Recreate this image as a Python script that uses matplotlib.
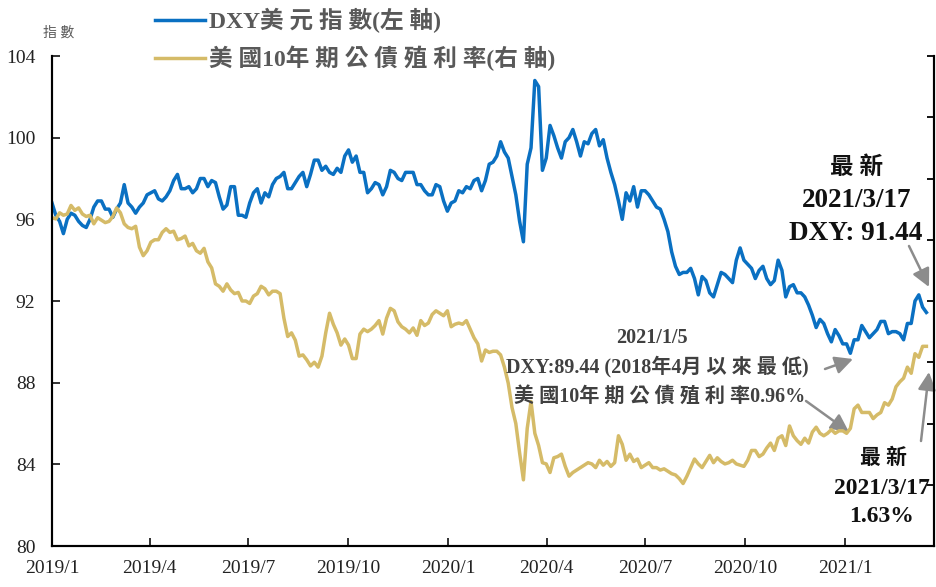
import numpy as np
import pandas as pd
import matplotlib
matplotlib.use("Agg")
import matplotlib.pyplot as plt
from matplotlib.patches import FancyArrowPatch

# ---------------- data (~2 readings per week) ----------------
start_date = "2019-01-01"
end_date = "2021-03-17"

dxy = [
    # 2019
    96.8, 96.2, 95.9, 95.3, 96.0, 96.3, 96.2, 95.9, 95.7,            # Jan
    95.6, 96.0, 96.6, 96.9, 96.9, 96.5, 96.5, 96.1,                  # Feb
    96.5, 96.8, 97.7, 96.8, 96.6, 96.3, 96.6, 96.8, 97.2,            # Mar
    97.3, 97.4, 97.0, 96.9, 97.1, 97.4, 97.9, 98.2, 97.5,            # Apr
    97.5, 97.6, 97.3, 97.5, 98.0, 98.0, 97.6, 97.9, 97.8,            # May
    97.1, 96.5, 96.7, 97.6, 97.6, 96.2, 96.2, 96.1,                  # Jun
    96.8, 97.3, 97.5, 96.8, 97.3, 97.1, 97.7, 98.0, 98.1,            # Jul
    98.3, 97.5, 97.5, 97.8, 98.1, 98.3, 97.6, 98.2, 98.9,            # Aug
    98.9, 98.4, 98.6, 98.3, 98.2, 98.5, 98.3, 99.1,                  # Sep
    99.4, 98.8, 99.1, 98.3, 98.3, 97.3, 97.5, 97.8, 97.7,            # Oct
    97.2, 97.6, 98.4, 98.3, 98.0, 97.9, 98.3, 98.3, 98.3,            # Nov
    97.7, 97.7, 97.4, 97.2, 97.2, 97.7, 97.6, 96.9, 96.4,            # Dec
    # 2020
    96.8, 96.9, 97.4, 97.3, 97.6, 97.5, 97.9, 98.0, 97.4,            # Jan
    97.9, 98.7, 98.8, 99.1, 99.8, 99.3, 99.0, 98.1,                  # Feb
    97.2, 95.9, 94.9, 98.7, 99.5, 102.8, 102.5, 98.4, 99.0,          # Mar
    100.6, 100.1, 99.5, 99.0, 99.8, 100.0, 100.4, 99.8,              # Apr
    99.1, 99.8, 99.7, 100.2, 100.4, 99.6, 99.9, 99.0, 98.3,          # May
    97.7, 96.9, 96.0, 97.3, 96.9, 97.6, 96.6, 97.4, 97.4,            # Jun
    97.2, 96.9, 96.6, 96.5, 96.0, 95.4, 94.4, 93.7, 93.3,            # Jul
    93.4, 93.4, 93.6, 93.1, 92.3, 93.2, 93.0, 92.4,                  # Aug
    92.2, 92.8, 93.4, 93.3, 93.1, 92.9, 94.0, 94.6, 94.0,            # Sep
    93.8, 93.6, 93.1, 93.5, 93.7, 93.1, 92.8, 93.0, 94.0,            # Oct
    93.5, 92.2, 92.7, 92.8, 92.4, 92.4, 92.2, 91.8,                  # Nov
    91.3, 90.7, 91.1, 90.9, 90.4, 90.0, 90.6, 90.3, 89.9,            # Dec
    # 2021
    89.9, 89.44, 90.1, 90.1, 90.8, 90.5, 90.2, 90.4, 90.6,           # Jan
    91.0, 91.0, 90.4, 90.5, 90.5, 90.4, 90.1, 90.9,                  # Feb
    90.9, 92.0, 92.3, 91.7, 91.44,                                   # Mar
]

yield10 = [
    # 2019
    2.68, 2.67, 2.72, 2.70, 2.71, 2.78, 2.74, 2.76, 2.71,            # Jan
    2.69, 2.70, 2.63, 2.68, 2.66, 2.64, 2.65, 2.69,                  # Feb
    2.76, 2.72, 2.63, 2.60, 2.59, 2.61, 2.44, 2.37, 2.41,            # Mar
    2.48, 2.50, 2.50, 2.56, 2.59, 2.56, 2.57, 2.50, 2.51,            # Apr
    2.53, 2.45, 2.47, 2.41, 2.39, 2.43, 2.32, 2.27, 2.14,            # May
    2.12, 2.08, 2.14, 2.09, 2.06, 2.07, 2.00, 2.00,                  # Jun
    1.98, 2.04, 2.06, 2.12, 2.10, 2.05, 2.08, 2.08, 2.06,            # Jul
    1.86, 1.71, 1.74, 1.68, 1.55, 1.56, 1.52, 1.47, 1.50,            # Aug
    1.46, 1.55, 1.74, 1.90, 1.81, 1.74, 1.64, 1.69,                  # Sep
    1.64, 1.53, 1.53, 1.73, 1.77, 1.75, 1.77, 1.80, 1.84,            # Oct
    1.73, 1.86, 1.94, 1.92, 1.83, 1.79, 1.77, 1.74, 1.78,            # Nov
    1.72, 1.84, 1.80, 1.82, 1.89, 1.92, 1.90, 1.88, 1.92,            # Dec
    # 2020
    1.79, 1.81, 1.82, 1.81, 1.84, 1.77, 1.70, 1.65, 1.51,            # Jan
    1.60, 1.58, 1.59, 1.59, 1.56, 1.46, 1.33, 1.13,                  # Feb
    1.00, 0.76, 0.54, 0.96, 1.18, 0.92, 0.82, 0.68, 0.67,            # Mar
    0.60, 0.72, 0.73, 0.75, 0.65, 0.57, 0.60, 0.62,                  # Apr
    0.64, 0.66, 0.68, 0.67, 0.64, 0.70, 0.66, 0.69, 0.65,            # May
    0.68, 0.90, 0.83, 0.70, 0.75, 0.69, 0.71, 0.64, 0.66,            # Jun
    0.68, 0.64, 0.64, 0.62, 0.63, 0.61, 0.59, 0.58, 0.55,            # Jul
    0.51, 0.57, 0.64, 0.71, 0.67, 0.64, 0.69, 0.74,                  # Aug
    0.68, 0.72, 0.69, 0.67, 0.68, 0.70, 0.67, 0.66, 0.65,            # Sep
    0.70, 0.78, 0.78, 0.73, 0.75, 0.80, 0.84, 0.78, 0.88,            # Oct
    0.90, 0.82, 0.98, 0.90, 0.86, 0.83, 0.88, 0.84,                  # Nov
    0.93, 0.97, 0.92, 0.90, 0.92, 0.95, 0.92, 0.94, 0.94,            # Dec
    # 2021
    0.92, 0.96, 1.12, 1.15, 1.09, 1.09, 1.09, 1.04, 1.07,            # Jan
    1.09, 1.17, 1.15, 1.20, 1.30, 1.34, 1.37, 1.46,                  # Feb
    1.41, 1.57, 1.54, 1.63, 1.63,                                    # Mar
]

xtick_dates = ["2019-01-01", "2019-04-01", "2019-07-01", "2019-10-01", "2020-01-01",
               "2020-04-01", "2020-07-01", "2020-10-01", "2021-01-01"]
xtick_labels = ["2019/1", "2019/4", "2019/7", "2019/10", "2020/1",
                "2020/4", "2020/7", "2020/10", "2021/1"]
left_ticks = [80, 84, 88, 92, 96, 100, 104]
right_ticks = [0, 0.5, 1.0, 1.5, 2.0, 2.5, 3.0, 3.5, 4.0]

label_dxy = "DXY美 元 指 數(左 軸)"
label_yield = "美 國10年 期 公 債 殖 利 率(右 軸)"

# ---------------- styling ----------------
BLUE = "#0A70C2"
GOLD = "#D5BB68"
FAM = ["Liberation Serif", "Noto Sans CJK TC", "DejaVu Sans"]
plt.rcParams["font.family"] = FAM

W, H = 937, 587
fig = plt.figure(figsize=(W / 100, H / 100), dpi=100)
L, R, B, T = 52, 934, 546, 56
ax = fig.add_axes([L / W, 1 - B / H, (R - L) / W, (B - T) / H])
ax2 = ax.twinx()

d_dxy = pd.to_datetime(np.linspace(pd.Timestamp(start_date).value,
                                   pd.Timestamp(end_date).value, len(dxy)))
d_yld = pd.to_datetime(np.linspace(pd.Timestamp(start_date).value,
                                   pd.Timestamp(end_date).value, len(yield10)))

ax.plot(d_dxy, dxy, color=BLUE, lw=2.5, solid_joinstyle="round")
ax2.plot(d_yld, yield10, color=GOLD, lw=2.5, solid_joinstyle="round")

ax.set_ylim(80, 104)
ax2.set_ylim(0, 4)
ax.set_xlim(pd.Timestamp("2019-01-01"), pd.Timestamp("2021-03-24"))

ax.set_yticks(left_ticks)
ax.set_yticklabels([str(v) for v in left_ticks])
ax2.set_yticks(right_ticks)
ax2.tick_params(axis="y", direction="in", length=5, width=1.3, labelright=False)
ax.set_xticks(pd.to_datetime(xtick_dates))
ax.set_xticklabels(xtick_labels)

for a in (ax, ax2):
    a.spines["top"].set_visible(False)
    for s in ("left", "right", "bottom"):
        a.spines[s].set_linewidth(1.5)
ax.tick_params(axis="both", direction="in", length=6, width=1.3,
               labelsize=14, colors="#222222")
ax.tick_params(axis="y", pad=12)
ax.tick_params(axis="x", pad=10)
ax2.set_zorder(ax.get_zorder() + 1)

# axis unit label
fig.text(59 / W, 1 - 33 / H, "指 數", fontsize=10, color="#595959",
         ha="center", va="center")

# legend (drawn as lines + text, as in the reference)
for yy, col, lab in ((20, BLUE, label_dxy), (58, GOLD, label_yield)):
    fig.add_artist(plt.Line2D([155 / W, 205 / W], [1 - yy / H, 1 - yy / H],
                              color=col, lw=2.5))
    fig.text(209 / W, 1 - yy / H, lab, fontsize=17, fontweight="bold",
             color="#595959", ha="left", va="center")

def fp(x, y):
    return (x, H - y)

# middle annotation
fig.text(652 / W, 1 - 338 / H, "2021/1/5", fontsize=14.5, fontweight="bold",
         color="#404040", ha="center", va="center")
fig.text(657 / W, 1 - 367 / H, "DXY:89.44 (2018年4月 以 來 最 低)", fontsize=14.5,
         fontweight="bold", color="#404040", ha="center", va="center")
fig.text(660 / W, 1 - 397 / H, "美 國10年 期 公 債 殖 利 率0.96%", fontsize=14.5,
         fontweight="bold", color="#404040", ha="center", va="center")

# right-top annotation
fig.text(857 / W, 1 - 168 / H, "最 新", fontsize=17, fontweight="bold",
         color="#111111", ha="center", va="center")
fig.text(857 / W, 1 - 201 / H, "2021/3/17", fontsize=19.5, fontweight="bold",
         color="#111111", ha="center", va="center")
fig.text(856 / W, 1 - 233 / H, "DXY: 91.44", fontsize=19.5, fontweight="bold",
         color="#111111", ha="center", va="center")

# right-bottom annotation
fig.text(884 / W, 1 - 459 / H, "最 新", fontsize=15, fontweight="bold",
         color="#111111", ha="center", va="center")
fig.text(882 / W, 1 - 488 / H, "2021/3/17", fontsize=17, fontweight="bold",
         color="#111111", ha="center", va="center")
fig.text(882 / W, 1 - 516 / H, "1.63%", fontsize=17, fontweight="bold",
         color="#111111", ha="center", va="center")

for (x0, y0, x1, y1) in ((825, 369, 853, 359),
                         (806, 401, 849, 432),
                         (909, 246, 929, 287),
                         (921, 441, 929, 372)):
    fig.add_artist(FancyArrowPatch(
        fp(x0, y0), fp(x1, y1), transform=None,
        arrowstyle="-|>,head_length=0.9,head_width=0.45", mutation_scale=12,
        color="#8C8C8C", lw=1.8, shrinkA=0, shrinkB=0))

fig.savefig("out.png", dpi=100)
